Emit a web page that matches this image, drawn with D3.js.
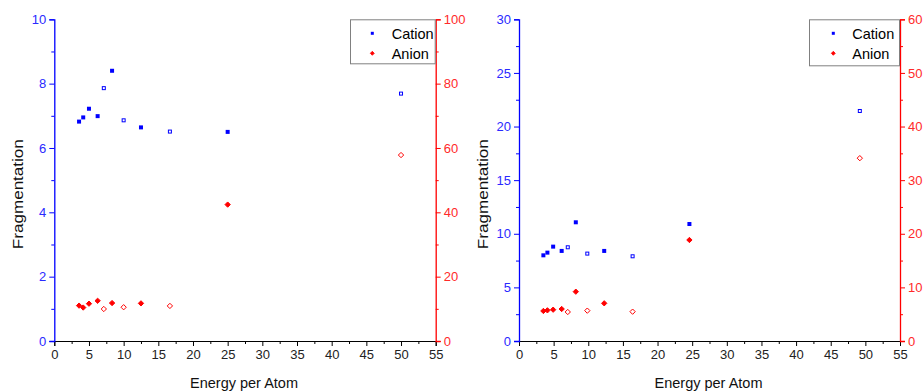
<!DOCTYPE html>
<html><head><meta charset="utf-8">
<script src="https://cdn.jsdelivr.net/npm/d3@7"></script>
<style>
body{margin:0;background:#fff;}
svg{display:block;font-family:"Liberation Sans",Arial,sans-serif;}
</style></head>
<body><svg id="c" width="924" height="392"></svg>
<script>
// ---- data ----
const energyA = [3.57, 4.17, 5, 6.25, 7.14, 8.33, 10, 12.5, 16.67, 25, 50];
const energyB = [3.52, 4.1, 4.93, 6.16, 7.04, 8.2, 9.86, 12.3, 16.4, 24.6, 49.2];
const openPoint = [false, false, false, false, true, false, true, false, true, false, true];
const cationA = [6.82, 6.95, 7.22, 6.99, 7.86, 8.40, 6.86, 6.64, 6.51, 6.50, 7.69];
const anionA  = [11.0, 10.4, 11.6, 12.5, 9.95, 11.8, 10.5, 11.7, 10.9, 42.4, 57.8];
const cationB = [7.99, 8.24, 8.80, 8.40, 8.74, 11.07, 8.15, 8.40, 7.90, 10.91, 21.45];
const anionB  = [5.6, 5.72, 5.84, 5.97, 5.41, 9.2, 5.66, 7.03, 5.47, 18.84, 34.1];
const xTicks = [0,5,10,15,20,25,30,35,40,45,50,55];
const leftTicksA = [0,2,4,6,8,10];
const rightTicksA = [0,20,40,60,80,100];
const leftTicksB = [0,5,10,15,20,25,30];
const rightTicksB = [0,10,20,30,40,50,60];
const seriesNames = ["Cation", "Anion"];
const xTitle = "Energy per Atom";
const yTitle = "Fragmentation";

const svg = d3.select("#c");
const BLUE = "#0000ff", RED = "#ff0000";

function minors(majors){
  const out=[];
  for(let i=0;i<majors.length-1;i++) out.push((majors[i]+majors[i+1])/2);
  return out;
}

function panel(cfg){
  const g = svg.append("g");
  const x = d3.scaleLinear().domain([0,55]).range([cfg.x0, cfg.x1]);
  const yl = d3.scaleLinear().domain([0, cfg.lmax]).range([cfg.y1, cfg.y0]);
  const yr = d3.scaleLinear().domain([0, cfg.rmax]).range([cfg.y1, cfg.y0]);

  // x axis
  const xa = g.append("g").attr("transform",`translate(0,${cfg.y1})`)
    .call(d3.axisBottom(x).tickValues(xTicks).tickSize(5).tickPadding(4).tickFormat(d3.format("d")));
  g.append("g").attr("transform",`translate(0,${cfg.y1})`)
    .call(d3.axisBottom(x).tickValues(minors(xTicks)).tickSize(3).tickFormat(""))
    .select(".domain").remove();
  xa.selectAll("text").attr("fill","#222").style("font-size","13px");

  // left axis
  const la = g.append("g").attr("transform",`translate(${cfg.x0},0)`)
    .call(d3.axisLeft(yl).tickValues(cfg.lt).tickSize(5).tickPadding(3));
  g.append("g").attr("transform",`translate(${cfg.x0},0)`)
    .call(d3.axisLeft(yl).tickValues(minors(cfg.lt)).tickSize(3).tickFormat(""))
    .call(s=>s.select(".domain").remove()).selectAll("line").attr("stroke",BLUE);
  la.select(".domain").attr("stroke",BLUE).attr("stroke-width",1.3);
  la.selectAll("line").attr("stroke",BLUE);
  la.selectAll("text").attr("fill","#2a2aff").style("font-size","13px");

  // right axis
  const ra = g.append("g").attr("transform",`translate(${cfg.x1},0)`)
    .call(d3.axisRight(yr).tickValues(cfg.rt).tickSize(5).tickPadding(3));
  g.append("g").attr("transform",`translate(${cfg.x1},0)`)
    .call(d3.axisRight(yr).tickValues(minors(cfg.rt)).tickSize(3).tickFormat(""))
    .call(s=>s.select(".domain").remove()).selectAll("line").attr("stroke",RED);
  ra.select(".domain").attr("stroke",RED).attr("stroke-width",1.3);
  ra.selectAll("line").attr("stroke",RED);
  ra.selectAll("text").attr("fill","#ff2a2a").style("font-size","13px");
  ra.attr("fill","none");

  xa.select(".domain").attr("stroke","#000");
  // redraw left/right domains above x domain
  la.raise(); ra.raise();

  // titles
  g.append("text").attr("x",(cfg.x0+cfg.x1)/2 - 1).attr("y",388)
    .attr("text-anchor","middle").style("font-size","14.5px").attr("fill","#111").text(xTitle);
  g.append("text").attr("transform",`translate(${cfg.x0-31},${(cfg.y0+cfg.y1)/2+14}) rotate(-90)`)
    .attr("text-anchor","middle").style("font-size","15px").attr("fill","#111")
    .attr("textLength",110).attr("lengthAdjust","spacingAndGlyphs").text(yTitle);

  // cation squares
  const sq = 4;
  g.append("g").selectAll("rect").data(cfg.energy).join("rect")
    .attr("x",(d,i)=>x(d)-sq/2 + (openPoint[i]?0.5:0))
    .attr("y",(d,i)=>yl(cfg.cation[i])-sq/2 + (openPoint[i]?0.5:0))
    .attr("width",(d,i)=>openPoint[i]?sq-1:sq).attr("height",(d,i)=>openPoint[i]?sq-1:sq)
    .attr("fill",(d,i)=>openPoint[i]?"#fff":BLUE)
    .attr("stroke",(d,i)=>openPoint[i]?BLUE:"none").attr("stroke-width",1);

  // anion diamonds
  const dia = d3.symbol().type(d3.symbolDiamond2).size(18);
  g.append("g").selectAll("path").data(cfg.energy).join("path")
    .attr("transform",(d,i)=>`translate(${x(d)},${yr(cfg.anion[i])})`)
    .attr("d",dia)
    .attr("fill",(d,i)=>openPoint[i]?"#fff":RED)
    .attr("stroke",RED).attr("stroke-width",1);

  // legend
  const lg = g.append("g");
  lg.append("rect").attr("x",cfg.lx+0.5).attr("y",cfg.y0+0.5)
    .attr("width",cfg.x1-cfg.lx-1).attr("height",cfg.lh)
    .attr("fill","#fff").attr("stroke","#808080").attr("stroke-width",1);
  const mx = cfg.lx + cfg.lmark;
  lg.append("rect").attr("x",mx-1.5).attr("y",33.3-1.5).attr("width",3).attr("height",3).attr("fill",BLUE);
  lg.append("path").attr("transform",`translate(${mx},53.3)`).attr("d",d3.symbol().type(d3.symbolDiamond2).size(10)).attr("fill",RED).attr("stroke",RED).attr("stroke-width",0.8);
  lg.selectAll("text.lt").data(seriesNames).join("text")
    .attr("x",cfg.lx+cfg.ltext).attr("y",(d,i)=>38.5+i*20)
    .style("font-size","14.5px").attr("fill","#000").text(d=>d);
}

panel({x0:54.3, x1:435.7, y0:19.3, y1:341, lmax:10, rmax:100, lt:leftTicksA, rt:rightTicksA,
  energy:energyA, cation:cationA, anion:anionA, lx:350, lh:44, lmark:22.3, ltext:41.7});
panel({x0:519, x1:900, y0:19.3, y1:341, lmax:30, rmax:60, lt:leftTicksB, rt:rightTicksB,
  energy:energyB, cation:cationB, anion:anionB, lx:809, lh:46, lmark:24.3, ltext:43.3});
</script></body></html>
